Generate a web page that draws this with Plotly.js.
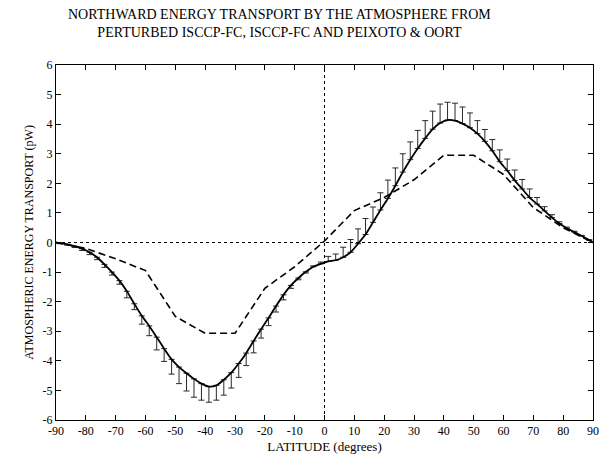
<!DOCTYPE html>
<html>
<head>
<meta charset="utf-8">
<script src="https://cdn.plot.ly/plotly-3.0.1.min.js"></script>
<style>html,body{margin:0;padding:0;background:#fff;}#chart{width:600px;height:455px;}</style>
</head>
<body>
<div id="chart"></div>
<script>
// ISCCP-FC grid (2.5 degree band centres)
const latitudes = [-88.75,-86.25,-83.75,-81.25,-78.75,-76.25,-73.75,-71.25,-68.75,-66.25,-63.75,-61.25,-58.75,-56.25,-53.75,-51.25,-48.75,-46.25,-43.75,-41.25,-38.75,-36.25,-33.75,-31.25,-28.75,-26.25,-23.75,-21.25,-18.75,-16.25,-13.75,-11.25,-8.75,-6.25,-3.75,-1.25,1.25,3.75,6.25,8.75,11.25,13.75,16.25,18.75,21.25,23.75,26.25,28.75,31.25,33.75,36.25,38.75,41.25,43.75,46.25,48.75,51.25,53.75,56.25,58.75,61.25,63.75,66.25,68.75,71.25,73.75,76.25,78.75,81.25,83.75,86.25,88.75];
const isccpFC = [-0.02,-0.06,-0.12,-0.21,-0.33,-0.50,-0.74,-1.00,-1.29,-1.65,-2.07,-2.48,-2.82,-3.20,-3.59,-3.95,-4.21,-4.42,-4.61,-4.77,-4.87,-4.83,-4.64,-4.40,-4.09,-3.74,-3.33,-2.93,-2.55,-2.15,-1.77,-1.45,-1.20,-0.99,-0.82,-0.72,-0.64,-0.60,-0.50,-0.33,-0.04,0.27,0.68,1.10,1.49,1.92,2.38,2.80,3.18,3.52,3.83,4.04,4.14,4.12,4.02,3.88,3.68,3.42,3.10,2.73,2.43,2.10,1.81,1.52,1.30,1.07,0.84,0.64,0.48,0.35,0.22,0.08];
// perturbed ISCCP-FC range (one-sided, away from zero)
const perturbedPlus = [0,0,0,0,0,0,0,0,0,0,0,0,0,0,0,0,0,0,0,0,0,0,0,0,0,0,0,0,0,0,0,0,0,0,0.03,0.06,0.17,0.21,0.34,0.43,0.50,0.54,0.52,0.58,0.62,0.60,0.62,0.60,0.61,0.60,0.61,0.64,0.60,0.59,0.56,0.50,0.44,0.40,0.38,0.40,0.39,0.35,0.32,0.29,0.22,0.14,0.10,0.06,0.04,0.03,0.02,0.01];
const perturbedMinus = [0.02,0.03,0.05,0.06,0.08,0.08,0.10,0.10,0.12,0.22,0.20,0.28,0.33,0.43,0.43,0.50,0.56,0.60,0.62,0.56,0.53,0.50,0.52,0.52,0.47,0.42,0.40,0.30,0.26,0.20,0.17,0.10,0.06,0.04,0,0,0,0,0,0,0,0,0,0,0,0,0,0,0,0,0,0,0,0,0,0,0,0,0,0,0,0,0,0,0,0,0,0,0,0,0,0];
// Peixoto & Oort
const poLatitudes = [-90,-80,-70,-60,-50,-40,-30,-20,-10,0,10,20,30,40,50,60,70,80,90];
const peixotoOort = [0,-0.20,-0.55,-0.95,-2.50,-3.07,-3.07,-1.55,-0.82,0.05,1.08,1.52,2.12,2.95,2.95,2.30,1.18,0.50,0];
// axis ticks
const xTickVals = [-90,-80,-70,-60,-50,-40,-30,-20,-10,0,10,20,30,40,50,60,70,80,90];
const xTickText = ['-90','-80','-70','-60','-50','-40','-30','-20','-10','0','10','20','30','40','50','60','70','80','90'];
const yTickVals = [-6,-5,-4,-3,-2,-1,0,1,2,3,4,5,6];
const yTickText = ['-6','-5','-4','-3','-2','-1','0','1','2','3','4','5','6'];
const titleText = 'NORTHWARD ENERGY TRANSPORT BY THE ATMOSPHERE FROM<br>PERTURBED ISCCP-FC, ISCCP-FC AND PEIXOTO &amp; OORT';

const solidX = [-90].concat(latitudes, [90]);
const solidY = [0].concat(isccpFC, [0]);

const serif = 'Liberation Serif, Times New Roman, serif';

const traces = [
  {
    x: latitudes, y: isccpFC, type: 'scatter', mode: 'markers',
    marker: {size: 1, color: 'rgba(0,0,0,0)'},
    error_y: {type: 'data', symmetric: false, array: perturbedPlus, arrayminus: perturbedMinus,
              color: '#2a2a2a', thickness: 1, width: 3},
    hoverinfo: 'skip', showlegend: false
  },
  {
    x: poLatitudes, y: peixotoOort, type: 'scatter', mode: 'lines',
    line: {color: '#000', width: 1.6, dash: '7px,4px'}, showlegend: false
  },
  {
    x: solidX, y: solidY, type: 'scatter', mode: 'lines',
    line: {color: '#000', width: 1.8, shape: 'spline', smoothing: 0.6}, showlegend: false
  }
];

const axisCommon = {
  showgrid: false, zeroline: false, showline: true, linecolor: '#000', linewidth: 1,
  mirror: 'ticks', ticks: 'inside', ticklen: 5, tickcolor: '#000', tickwidth: 1,
  tickfont: {family: serif, size: 12, color: '#000'}
};

const layout = {
  width: 600, height: 455,
  margin: {l: 56, r: 7, t: 65, b: 35},
  paper_bgcolor: '#fff', plot_bgcolor: '#fff',
  annotations: [
    {text: titleText, xref: 'paper', yref: 'paper', x: 0.417, y: 1.117,
     xanchor: 'center', yanchor: 'middle', showarrow: false, align: 'center',
     font: {family: serif, size: 14, color: '#000'}}
  ],
  xaxis: Object.assign({}, axisCommon, {
    range: [-90, 90], tickmode: 'array', tickvals: xTickVals, ticktext: xTickText,
    title: {text: 'LATITUDE (degrees)', font: {family: serif, size: 13, color: '#000'}, standoff: 4}
  }),
  yaxis: Object.assign({}, axisCommon, {
    range: [-6, 6], tickmode: 'array', tickvals: yTickVals, ticktext: yTickText,
    title: {text: 'ATMOSPHERIC ENERGY TRANSPORT (pW)', font: {family: serif, size: 12, color: '#000'}, standoff: 6}
  }),
  shapes: [
    {type: 'line', xref: 'x', yref: 'y', x0: -90, x1: 90, y0: 0, y1: 0,
     line: {color: '#000', width: 1, dash: 'dot'}, layer: 'below'},
    {type: 'line', xref: 'x', yref: 'y', x0: 0, x1: 0, y0: -6, y1: 6,
     line: {color: '#000', width: 1, dash: 'dot'}, layer: 'below'}
  ]
};

Plotly.newPlot('chart', traces, layout, {displayModeBar: false, staticPlot: true});
</script>
</body>
</html>
